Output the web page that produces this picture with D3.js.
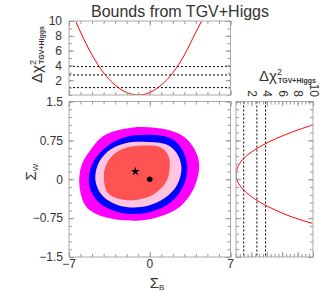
<!DOCTYPE html>
<html>
<head>
<meta charset="utf-8">
<script src="https://cdn.jsdelivr.net/npm/d3@7"></script>
<style>
  body { margin: 0; background: #fff; }
  text { font-family: "Liberation Sans", Arial, sans-serif; fill: #333; }
</style>
</head>
<body>
<script>
// ---- data ----
// 1D scan along Sigma_B (top panel)
var topSigmaB = [-6.4, -6, -5, -4, -3, -2, -1, 0, 1, 2, 3, 4, 4.5];
var topChi2   = [9.9, 8.5, 5.4, 3.0, 1.35, 0.34, 0, 0.34, 1.35, 3.0, 5.4, 8.5, 10.0];

// 1D scan along Sigma_W (right panel)
var rightSigmaW = [1.05, 0.9, 0.75, 0.6, 0.45, 0.3, 0.15, 0.1, 0, -0.15, -0.3, -0.45, -0.6, -0.75, -0.85];
var rightChi2   = [10, 7.1, 4.7, 2.8, 1.35, 0.45, 0.05, 0, 0.1, 0.65, 1.7, 3.2, 5.2, 7.7, 9.9];

// reference levels (dashed lines)
var chi2Levels = [1, 2.71, 3.84];

// 2D contours, outermost first: [Sigma_B, Sigma_W] points
var contourNames = ["c4", "c3", "c2", "c1"];
var contourColors = ["#ff00ff", "#0000ff", "#ffc4e0", "#ff5252"];
var contourPoints = [
  [[-0.58,1.01],[1.45,0.96],[2.9,0.83],[3.91,0.57],[4.29,0.25],[3.77,-0.2],[2.61,-0.53],[0.87,-0.72],
   [-1.16,-0.8],[-4.06,-0.72],[-5.5,-0.53],[-6.09,-0.14],[-5.94,0.25],[-5.22,0.54],[-4.06,0.83],[-2.32,0.97]],
  [[-0.29,0.86],[1.74,0.8],[2.75,0.6],[3.25,0.25],[2.9,-0.14],[1.74,-0.46],[-0.29,-0.65],[-2.61,-0.64],
   [-4.35,-0.46],[-5.22,-0.14],[-5.07,0.25],[-4.06,0.57],[-2.32,0.8]],
  [[-0.29,0.72],[1.45,0.67],[2.32,0.51],[2.75,0.22],[2.37,-0.11],[1.3,-0.36],[-0.58,-0.53],[-2.61,-0.51],
   [-4.06,-0.33],[-4.7,-0.04],[-4.5,0.28],[-3.62,0.54],[-2.17,0.69]],
  [[-0.58,0.65],[0.87,0.62],[1.59,0.47],[1.74,0.25],[1.45,-0.04],[0.43,-0.28],[-1.16,-0.4],[-2.61,-0.38],
   [-3.62,-0.27],[-3.97,-0.01],[-3.83,0.25],[-3.19,0.47],[-2.17,0.6]]
];

var bestFit = [-1.25, 0.15];   // star
var smPoint = [0, 0];          // dot

var sbTicks = [-7, 0, 7];
var swTicks = [1.5, 0.75, 0, -0.75, -1.5];
var chiTicks = [2, 4, 6, 8, 10];

// ---- layout ----
var W = 332, H = 297;
var svg = d3.select("body").append("svg").attr("width", W).attr("height", H);

var x = d3.scaleLinear().domain([-7, 7]).range([69, 230.5]);
var y = d3.scaleLinear().domain([-1.5, 1.5]).range([257, 101.5]);
var yTop = d3.scaleLinear().domain([0, 10]).range([95, 21]);
var xRight = d3.scaleLinear().domain([0, 10]).range([236, 313]);

var fmt = function(d) { return String(d).replace("-", "\u2212"); };

// inward ticks on a side of a panel
function ticks(axisFn, scale, tx, ty, major, minor) {
  var g = svg.append("g").attr("transform", "translate(" + tx + "," + ty + ")");
  g.call(axisFn(scale).tickValues(minor).tickSize(-3).tickFormat(""));
  g.select(".domain").remove();
  var g2 = svg.append("g").attr("transform", "translate(" + tx + "," + ty + ")");
  g2.call(axisFn(scale).tickValues(major).tickSize(-5).tickFormat(""));
  g2.select(".domain").remove();
  svg.selectAll(".tick line").attr("stroke", "#999");
}

function frame(x0, x1, y0, y1) {
  svg.append("rect").attr("x", x0).attr("y", y0)
    .attr("width", x1 - x0).attr("height", y1 - y0)
    .attr("fill", "none").attr("stroke", "#aaa").attr("stroke-width", 1);
}

var sbMinor = d3.range(-7, 7.01, 1);
var swMinor = d3.range(-1.5, 1.51, 0.15);
var chiMinor = d3.range(0, 10.01, 1);
var chiMinorR = d3.range(0, 10.01, 0.5);

// ---- main panel ----
svg.append("clipPath").attr("id", "clipMain").append("rect")
  .attr("x", x(-7)).attr("y", y(1.5)).attr("width", x(7) - x(-7)).attr("height", y(-1.5) - y(1.5));

var area = d3.line()
  .x(function(d) { return x(d[0]); })
  .y(function(d) { return y(d[1]); })
  .curve(d3.curveCatmullRomClosed);

svg.append("g").attr("clip-path", "url(#clipMain)")
  .selectAll("path").data(contourPoints).enter().append("path")
  .attr("class", function(d, i) { return contourNames[i]; })
  .attr("d", area)
  .attr("fill", function(d, i) { return contourColors[i]; });

svg.append("path")
  .attr("d", d3.symbol().type(d3.symbolStar).size(24)())
  .attr("transform", "translate(" + x(bestFit[0]) + "," + y(bestFit[1]) + ")")
  .attr("fill", "#000");
svg.append("circle").attr("cx", x(smPoint[0])).attr("cy", y(smPoint[1])).attr("r", 2.8).attr("fill", "#000");

frame(x(-7), x(7), y(1.5), y(-1.5));
ticks(d3.axisBottom, x, 0, y(-1.5), sbTicks, sbMinor);
ticks(d3.axisTop, x, 0, y(1.5), sbTicks, sbMinor);
ticks(d3.axisLeft, y, x(-7), 0, swTicks, swMinor);
ticks(d3.axisRight, y, x(7), 0, swTicks, swMinor);

svg.selectAll(".sbLab").data(sbTicks).enter().append("text")
  .attr("x", function(d) { return x(d); }).attr("y", 268)
  .attr("text-anchor", "middle").attr("font-size", 12).text(fmt);
svg.selectAll(".swLab").data(swTicks).enter().append("text")
  .attr("x", 63).attr("y", function(d) { return y(d); }).attr("dy", "0.36em")
  .attr("text-anchor", "end").attr("font-size", 12).text(fmt);

var xl = svg.append("text").attr("x", 157).attr("y", 288).attr("text-anchor", "middle").attr("font-size", 15);
xl.append("tspan").text("\u03a3");
xl.append("tspan").attr("font-size", 8).attr("dy", 2).text("B");

var yl = svg.append("text").attr("transform", "translate(36,172) rotate(-90)")
  .attr("text-anchor", "middle").attr("font-size", 15);
yl.append("tspan").text("\u03a3");
yl.append("tspan").attr("font-size", 8).attr("dy", 2).text("W");

// ---- top panel ----
svg.append("clipPath").attr("id", "clipTop").append("rect")
  .attr("x", x(-7)).attr("y", yTop(10)).attr("width", x(7) - x(-7)).attr("height", yTop(0) - yTop(10));

svg.selectAll(".hlev").data(chi2Levels).enter().append("line")
  .attr("x1", x(-7)).attr("x2", x(7))
  .attr("y1", function(d) { return yTop(d); }).attr("y2", function(d) { return yTop(d); })
  .attr("stroke", "#000").attr("stroke-width", 1).attr("stroke-dasharray", "2,2");

var topLine = d3.line()
  .x(function(d, i) { return x(topSigmaB[i]); })
  .y(function(d) { return yTop(d); })
  .curve(d3.curveMonotoneX);
svg.append("path").attr("clip-path", "url(#clipTop)")
  .attr("d", topLine(topChi2))
  .attr("fill", "none").attr("stroke", "#ff0000").attr("stroke-width", 1);

frame(x(-7), x(7), yTop(10), yTop(0));
ticks(d3.axisBottom, x, 0, yTop(0), sbTicks, sbMinor);
ticks(d3.axisTop, x, 0, yTop(10), sbTicks, sbMinor);
ticks(d3.axisLeft, yTop, x(-7), 0, chiTicks, chiMinor);
ticks(d3.axisRight, yTop, x(7), 0, chiTicks, chiMinor);

svg.selectAll(".chiLab").data(chiTicks).enter().append("text")
  .attr("x", 62).attr("y", function(d) { return yTop(d); }).attr("dy", "0.36em")
  .attr("text-anchor", "end").attr("font-size", 12).text(fmt);

function chiLabel(t) {
  t.append("tspan").attr("font-size", 15).text("\u0394\u03c7");
  t.append("tspan").attr("font-size", 9).attr("dy", -6).text("2");
  t.append("tspan").attr("font-size", 7).attr("font-weight", "bold").attr("dx", -4).attr("dy", 8).text("TGV+Higgs");
}
chiLabel(svg.append("text").attr("transform", "translate(42,83) rotate(-90)"));

// ---- right panel ----
svg.append("clipPath").attr("id", "clipRight").append("rect")
  .attr("x", xRight(0)).attr("y", y(1.5)).attr("width", xRight(10) - xRight(0)).attr("height", y(-1.5) - y(1.5));

svg.selectAll(".vlev").data(chi2Levels).enter().append("line")
  .attr("y1", y(1.5)).attr("y2", y(-1.5))
  .attr("x1", function(d) { return xRight(d); }).attr("x2", function(d) { return xRight(d); })
  .attr("stroke", "#000").attr("stroke-width", 1).attr("stroke-dasharray", "2,2");

var rightLine = d3.line()
  .x(function(d) { return xRight(d); })
  .y(function(d, i) { return y(rightSigmaW[i]); })
  .curve(d3.curveMonotoneY);
svg.append("path").attr("clip-path", "url(#clipRight)")
  .attr("d", rightLine(rightChi2))
  .attr("fill", "none").attr("stroke", "#ff0000").attr("stroke-width", 1);

frame(xRight(0), xRight(10), y(1.5), y(-1.5));
ticks(d3.axisBottom, xRight, 0, y(-1.5), chiTicks, chiMinorR);
ticks(d3.axisTop, xRight, 0, y(1.5), chiTicks, chiMinorR);
ticks(d3.axisLeft, y, xRight(0), 0, swTicks, swMinor);
ticks(d3.axisRight, y, xRight(10), 0, swTicks, swMinor);

svg.selectAll(".chiLabR").data(chiTicks).enter().append("text")
  .attr("transform", function(d) { return "translate(" + (xRight(d) + 1) + ",97) rotate(90)"; })
  .attr("dy", "0.36em").attr("text-anchor", "end").attr("font-size", 12).text(fmt);

chiLabel(svg.append("text").attr("x", 259).attr("y", 81));

// ---- title ----
svg.append("text").attr("x", 180).attr("y", 17).attr("text-anchor", "middle")
  .attr("font-size", 16).text("Bounds from TGV+Higgs");
</script>
</body>
</html>
